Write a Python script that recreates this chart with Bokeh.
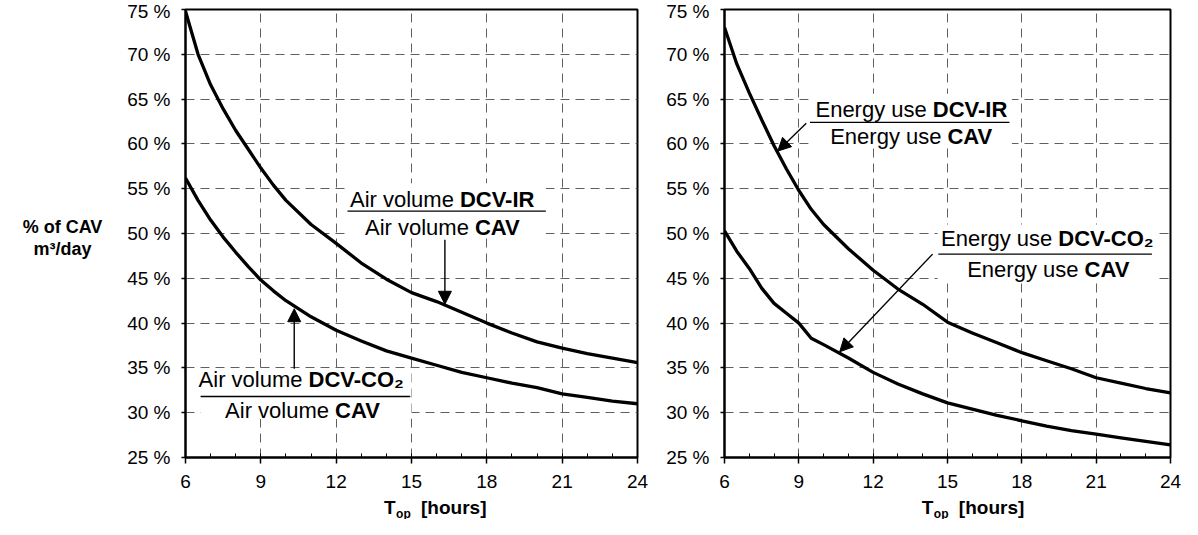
from bokeh.plotting import figure
from bokeh.layouts import row, column
from bokeh.models import FixedTicker, Arrow, NormalHead, Label, Range1d
from bokeh.embed import file_html
from bokeh.resources import INLINE
from bokeh.core.properties import value

# ---------------- data ----------------
hours = [6, 6.5, 7, 7.5, 8, 8.5, 9, 9.5, 10, 11, 12, 13, 14, 15, 16, 17, 18, 19, 20, 21, 22, 23, 24]
air_dcv_ir = [74.8, 70.0, 66.6, 63.9, 61.5, 59.4, 57.3, 55.4, 53.7, 51.0, 48.9, 46.7, 44.9, 43.4,
              42.4, 41.2, 40.0, 38.9, 37.9, 37.2, 36.6, 36.1, 35.6]
air_dcv_co2 = [56.2, 53.7, 51.5, 49.6, 47.9, 46.3, 44.8, 43.6, 42.5, 40.7, 39.2, 38.0, 36.9, 36.1,
               35.3, 34.5, 33.9, 33.3, 32.8, 32.1, 31.7, 31.3, 31.0]
energy_dcv_ir = [73.0, 68.9, 65.7, 62.7, 59.8, 57.2, 54.8, 52.7, 51.0, 48.3, 45.9, 43.8, 42.1, 40.1,
                 38.9, 37.8, 36.7, 35.8, 34.9, 33.9, 33.3, 32.7, 32.2]
energy_dcv_co2 = [50.3, 48.0, 46.1, 43.9, 42.2, 41.1, 40.0, 38.3, 37.6, 36.1, 34.5, 33.2, 32.1, 31.1,
                  30.4, 29.7, 29.1, 28.5, 28.0, 27.6, 27.2, 26.8, 26.4]

x_ticks = [6, 9, 12, 15, 18, 21, 24]
x_minor = list(range(6, 25))
y_ticks = [25, 30, 35, 40, 45, 50, 55, 60, 65, 70, 75]
y_labels = {t: f"{t} %" for t in y_ticks}
y_title = ["% of CAV", "m\u00b3/day"]

FONT = "Liberation Sans"
TICK_SIZE = "19px"
ANN_SIZE = "22px"

H = 519
TOP = 9
FRAME_H = 448
BOTTOM = 36
TITLE_H = H - TOP - FRAME_H - BOTTOM


def blank(w, h):
    p = figure(width=w, height=h, x_range=Range1d(0, w), y_range=Range1d(0, h),
               x_axis_type=None, y_axis_type=None,
               min_border=0, output_backend="svg", toolbar_location=None)
    p.grid.visible = False
    p.outline_line_color = None
    p.background_fill_color = "white"
    p.border_fill_color = "white"
    return p


def make_panel(frame_w, border_left, border_right):
    p = figure(frame_width=frame_w, frame_height=FRAME_H,
               x_range=Range1d(6, 24), y_range=Range1d(25, 75),
               min_border_left=border_left, min_border_right=border_right,
               min_border_top=TOP, min_border_bottom=BOTTOM,
               output_backend="svg", toolbar_location=None)
    p.background_fill_color = "white"
    p.border_fill_color = "white"
    p.outline_line_color = "black"
    p.outline_line_width = 2

    p.xaxis.ticker = FixedTicker(ticks=x_ticks, minor_ticks=x_minor)
    p.yaxis.ticker = FixedTicker(ticks=y_ticks, minor_ticks=[])
    p.yaxis.major_label_overrides = y_labels
    for ax in (p.xaxis, p.yaxis):
        ax.axis_line_width = 2
        ax.axis_line_color = "black"
        ax.major_tick_line_color = "black"
        ax.major_tick_line_width = 1.5
        ax.major_label_text_font = FONT
        ax.major_label_text_font_size = TICK_SIZE
        ax.major_label_text_color = "black"
        ax.major_tick_in = 0
    p.xaxis.major_tick_out = 6
    p.xaxis.minor_tick_in = 4
    p.xaxis.minor_tick_out = 0
    p.xaxis.minor_tick_line_color = "black"
    p.xaxis.minor_tick_line_width = 1
    p.xaxis.major_label_standoff = 11
    p.yaxis.major_tick_out = 4
    p.yaxis.minor_tick_line_color = None
    p.yaxis.major_label_standoff = 11

    p.xgrid.ticker = FixedTicker(ticks=x_ticks)
    p.ygrid.ticker = FixedTicker(ticks=y_ticks)
    for g in (p.xgrid, p.ygrid):
        g.grid_line_color = "#606060"
        g.grid_line_dash = "9 6"
        g.grid_line_width = 1
    return p


def x_title(width, center):
    t = blank(width, TITLE_H)
    mid = 12
    t.text(x=[center], y=[mid], text=["T"], x_offset=-52, text_align="left",
           text_baseline="middle", text_font=value(FONT), text_font_size="19px",
           text_font_style="bold", text_color="black")
    t.text(x=[center], y=[mid - 6], text=["op"], x_offset=-40, text_align="left",
           text_baseline="middle", text_font=value(FONT), text_font_size="12px",
           text_font_style="bold", text_color="black")
    t.text(x=[center], y=[mid], text=["[hours]"], x_offset=-15, text_align="left",
           text_baseline="middle", text_font=value(FONT), text_font_size="19px",
           text_font_style="bold", text_color="black")
    return t


def mixed(p, x, y, reg, bold, dx):
    p.add_layout(Label(x=x, y=y, x_offset=dx - 3, text=reg, text_align="right",
                       text_baseline="middle", text_font=FONT, text_font_size=ANN_SIZE,
                       text_color="black"))
    p.add_layout(Label(x=x, y=y, x_offset=dx + 3, text=bold, text_align="left",
                       text_baseline="middle", text_font=FONT, text_font_size=ANN_SIZE,
                       text_font_style="bold", text_color="black"))


def fraction(p, x, box, y_top, y_line, y_bot, reg, bold_top, dx_top, bold_bot, dx_bot, line_x):
    p.quad(left=box[0], right=box[1], bottom=box[2], top=box[3],
           fill_color="white", line_color=None)
    mixed(p, x, y_top, reg, bold_top, dx_top)
    p.segment(x0=line_x[0], x1=line_x[1], y0=y_line, y1=y_line, line_color="black", line_width=1.4)
    mixed(p, x, y_bot, reg, bold_bot, dx_bot)


def arrow(p, xs, ys, xe, ye):
    p.add_layout(Arrow(x_start=xs, y_start=ys, x_end=xe, y_end=ye, line_width=1.4,
                       line_color="black",
                       end=NormalHead(size=13, fill_color="black", line_color="black")))


# ---------------- y-axis title column ----------------
YLAB_W = 115
ylab = blank(YLAB_W, H)
ylab.text(x=[62, 62], y=[H - 226, H - 248], text=y_title, text_align="center",
          text_baseline="middle", text_font=value(FONT), text_font_size="18px",
          text_font_style="bold", text_color="black")

# ---------------- left panel ----------------
L_BL, L_FW, L_BR = 70, 452, 12
left = make_panel(L_FW, L_BL, L_BR)
fraction(left, 16.25, (12.45, 20.35, 49.6, 55.6), 53.8, 52.5, 50.7,
         "Air volume", "DCV-IR", 14, "CAV", 29, (12.45, 20.35))
fraction(left, 10.68, (6.6, 15.0, 29.3, 34.85), 33.7, 31.8, 30.2,
         "Air volume", "DCV-CO\u2082", 2.5, "CAV", 29, (6.6, 14.95))
left.line(hours, air_dcv_ir, line_color="black", line_width=3.3)
left.line(hours, air_dcv_co2, line_color="black", line_width=3.3)
arrow(left, 16.33, 49.3, 16.33, 42.1)
arrow(left, 10.33, 34.9, 10.33, 41.6)
left_title = x_title(L_BL + L_FW + L_BR, L_BL + L_FW / 2)

# ---------------- right panel ----------------
R_BL, R_FW = 75, 446
R_BR = 1182 - YLAB_W - (L_BL + L_FW + L_BR) - R_BL - R_FW
right = make_panel(R_FW, R_BL, R_BR)
fraction(right, 13.57, (9.4, 17.6, 59.6, 65.6), 63.8, 62.4, 60.8,
         "Energy use", "DCV-IR", 17.7, "CAV", 32.4, (9.45, 17.5))
fraction(right, 19.1, (14.6, 23.45, 44.6, 51.0), 49.45, 47.7, 46.0,
         "Energy use", "DCV-CO\u2082", 6.2, "CAV", 32.4, (14.63, 23.25))
right.line(hours, energy_dcv_ir, line_color="black", line_width=3.3)
right.line(hours, energy_dcv_co2, line_color="black", line_width=3.3)
arrow(right, 9.3, 62.3, 8.15, 59.2)
arrow(right, 14.4, 47.7, 10.65, 36.8)
right_title = x_title(R_BL + R_FW + R_BR, R_BL + R_FW / 2)

layout = row(ylab, column(left, left_title), column(right, right_title))
open("out.html", "w").write(file_html(layout, INLINE))
